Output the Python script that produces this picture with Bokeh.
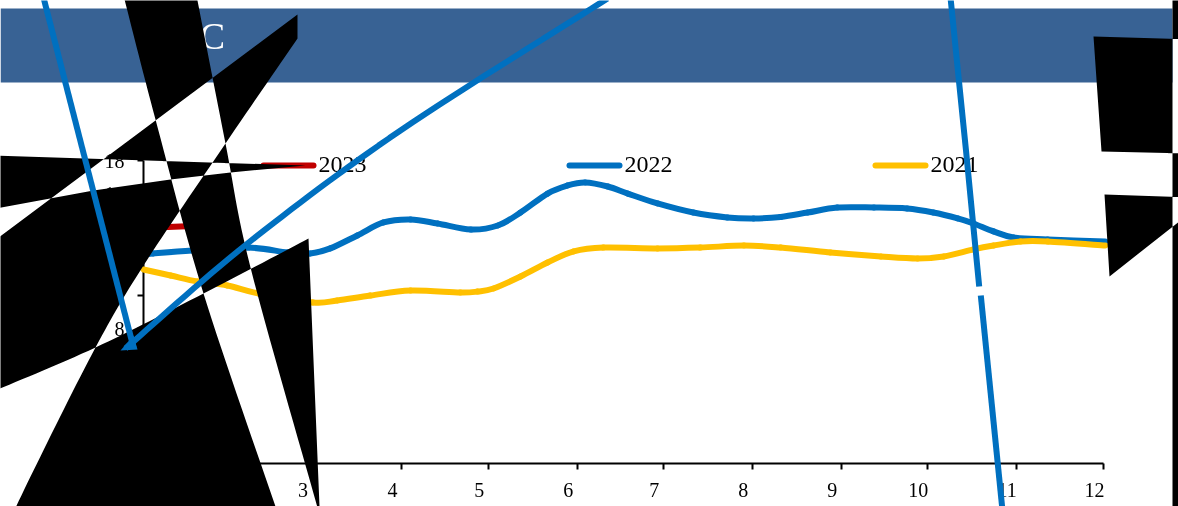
from bokeh.plotting import figure
from bokeh.models import LinearAxis, FixedTicker, Range1d
from bokeh.core.properties import value
from bokeh.embed import file_html
from bokeh.resources import INLINE

# ---- series (month position, value) ----
months_2023 = [1.00, 1.98]
values_2023 = [14.00, 14.20]

months_2022 = [1.00, 1.11, 1.56, 2.20, 2.65, 2.91, 3.14, 3.45, 3.75, 4.06, 4.37, 4.75, 5.06, 5.32, 5.63, 5.86, 6.06,
               6.32, 6.55, 6.89, 7.30, 7.69, 7.99, 8.30, 8.61, 8.95, 9.37, 9.75, 10.05, 10.33, 10.51, 10.74, 10.97,
               11.36, 12.02]
values_2022 = [12.42, 12.48, 12.66, 12.83, 12.54, 12.48, 12.78, 13.55, 14.32, 14.50, 14.26, 13.90, 14.14, 14.91, 16.04,
               16.52, 16.70, 16.46, 16.04, 15.45, 14.91, 14.62, 14.56, 14.65, 14.91, 15.21, 15.21, 15.15, 14.91, 14.56,
               14.26, 13.79, 13.43, 13.31, 13.19]

months_2021 = [1.00, 1.31, 1.62, 1.96, 2.32, 2.94, 3.22, 3.60, 4.06, 4.63, 4.83, 5.01, 5.32, 5.63, 5.93, 6.27, 6.89,
               7.38, 7.88, 8.30, 8.87, 9.45, 9.87, 10.17, 10.51, 10.74, 11.05, 11.36, 12.02]
values_2021 = [11.53, 11.17, 10.81, 10.58, 10.10, 9.57, 9.69, 9.98, 10.28, 10.16, 10.22, 10.40, 11.11, 11.94, 12.60,
               12.83, 12.78, 12.83, 12.95, 12.83, 12.54, 12.30, 12.18, 12.30, 12.72, 12.95, 13.19, 13.19, 12.95]

x_tick_positions = [1.00, 1.98, 2.93, 3.956, 4.95, 5.97, 6.955, 7.975, 8.995, 9.98, 11.0, 12.0]
x_tick_labels = ["1", "2", "3", "4", "5", "6", "7", "8", "9", "10", "11", "12"]
y_ticks = [0, 2, 4, 6, 8, 10, 12, 14, 16, 18]

legend_names = ["2023", "2022", "2021"]
title_text = "C"

RED, BLUE, YELLOW, BAND, BLACK = "#C00000", "#0070C0", "#FFC000", "#386294", "#000000"
FONT = value("Liberation Serif")

PX_PER_MONTH = 87.27
PX_PER_UNIT = 16.83
W, H = 1178, 506


def bezier_segments(xs, ys):
    """Control points of a smooth curve through the points (the reference's lines are smoothed)."""
    out = dict(x0=[], y0=[], x1=[], y1=[], cx0=[], cy0=[], cx1=[], cy1=[])
    n = len(xs)
    for i in range(n - 1):
        a, d = max(i - 1, 0), min(i + 2, n - 1)
        out["x0"].append(xs[i]); out["y0"].append(ys[i])
        out["x1"].append(xs[i + 1]); out["y1"].append(ys[i + 1])
        out["cx0"].append(xs[i] + (xs[i + 1] - xs[a]) / 6); out["cy0"].append(ys[i] + (ys[i + 1] - ys[a]) / 6)
        out["cx1"].append(xs[i + 1] - (xs[d] - xs[i]) / 6); out["cy1"].append(ys[i + 1] - (ys[d] - ys[i]) / 6)
    return out


def smooth_edge(pts, steps=16):
    xs, ys = [q[0] for q in pts], [q[1] for q in pts]
    s = bezier_segments(xs, ys)
    rx, ry = [xs[0]], [ys[0]]
    for i in range(len(xs) - 1):
        for k in range(1, steps + 1):
            t = k / steps
            u = 1 - t
            rx.append(u**3 * s["x0"][i] + 3 * u * u * t * s["cx0"][i] + 3 * u * t * t * s["cx1"][i] + t**3 * s["x1"][i])
            ry.append(u**3 * s["y0"][i] + 3 * u * u * t * s["cy0"][i] + 3 * u * t * t * s["cy1"][i] + t**3 * s["y1"][i])
    return rx, ry


p = figure(
    width=W, height=H, output_backend="svg", toolbar_location=None,
    x_axis_location=None, y_axis_location=None,
    x_range=Range1d(1 - 143 / PX_PER_MONTH, 1 + (W - 143) / PX_PER_MONTH),
    y_range=Range1d((463 - H) / PX_PER_UNIT, 463 / PX_PER_UNIT),
    min_border=0, min_border_left=0, min_border_right=0, min_border_top=0, min_border_bottom=0,
    outline_line_color=None, background_fill_color="white",
)
p.styles = {"position": "fixed", "left": "0px", "top": "0px"}
p.grid.visible = False
p.extra_x_ranges["px"] = Range1d(0, W)
p.extra_y_ranges["px"] = Range1d(H, 0)
PX = dict(x_range_name="px", y_range_name="px")

# axes: no space taken, fixed inside the frame
xax = LinearAxis(fixed_location=0, ticker=FixedTicker(ticks=[], minor_ticks=x_tick_positions),
                 bounds=(1, 12))
xax.minor_tick_in, xax.minor_tick_out = 0, 6
xax.major_tick_line_color = None
xax.axis_line_width = xax.minor_tick_line_width = 2
xax.level = "underlay"
p.add_layout(xax, "below")

yax = LinearAxis(fixed_location=1, ticker=FixedTicker(ticks=y_ticks), bounds=(0, 18))
yax.major_label_text_font = "Liberation Serif"
yax.major_label_text_font_size = "20px"
yax.major_label_text_color = "black"
yax.major_label_standoff = 13
yax.major_tick_in, yax.major_tick_out = 0, 6
yax.minor_tick_line_color = None
yax.axis_line_width = yax.major_tick_line_width = 2
yax.level = "underlay"
p.add_layout(yax, "left")

# header band and its title
p.quad(left=[0], right=[1172], top=[8], bottom=[82], fill_color=BAND, line_color=None, **PX)
p.text(x=[212], y=[35], text=[title_text], text_font=FONT, text_font_size="38px", text_color="white",
       text_align="center", text_baseline="middle", **PX)

# x tick labels
p.text(x=x_tick_positions, y=[0] * 12, text=x_tick_labels, text_font=FONT, text_font_size="20px", text_color="black",
       text_align="center", text_baseline="middle", x_offset=-9, y_offset=26)

# series
for xs, ys, col in [(months_2023, values_2023, RED), (months_2022, values_2022, BLUE), (months_2021, values_2021, YELLOW)]:
    p.bezier(line_color=col, line_width=6, line_cap="round", **bezier_segments(xs, ys))

# legend
for name, col, x0 in zip(legend_names, [RED, BLUE, YELLOW], [263, 569, 875]):
    p.line([x0, x0 + 50], [165, 165], line_color=col, line_width=6, line_cap="round", **PX)
    p.text(x=[x0 + 55], y=[164], text=[name], text_font=FONT, text_font_size="24px", text_color="black",
           text_baseline="middle", **PX)

# overlapping black shapes of the reference, drawn even-odd so that overlaps turn white
strip_l = smooth_edge([(123, -5), (155, 119), (203, 293), (275, 506), (285, 535)])
strip_r = smooth_edge([(196, -5), (225, 143), (250, 267), (315, 500), (325, 535)])
edge_2 = smooth_edge([(297, 38), (225, 143), (143, 265), (95, 347), (33, 470), (-5, 550)])
curve_c = smooth_edge([(-10, 392), (95, 347), (203, 293), (308, 238)])
strip = (strip_l[0] + strip_r[0][::-1], strip_l[1] + strip_r[1][::-1])
wedge = ([297] + edge_2[0] + [-10, -10], [14] + edge_2[1] + [560, 243])
curve = (curve_c[0] + [320, -10], curve_c[1] + [530, 530])
sliver = ([-10, 305, 230, 170, 93, -10], [155, 165, 172, 179, 190, 209])
right_column = ([1172, 1190, 1190, 1172], [-5, -5, 511, 511])
right_a = ([1093, 1190, 1190, 1101], [36, 39, 153, 151])
right_b = ([1104, 1190, 1190, 1109], [194, 197, 212, 276])
rings = [strip, wedge, curve, sliver, right_column, right_a, right_b]
p.multi_polygons(xs=[[[list(r[0]) for r in rings]]], ys=[[[list(r[1]) for r in rings]]],
                 fill_color=BLACK, line_color=None, **PX)

# blue strokes over everything
stroke_a = ([43, 133], [-3, 347])
stroke_b = smooth_edge([(607, -2), (400, 130), (247, 243), (125, 348)])
stroke_c = ([950, 965.5, 978.7], [-3, 150, 286])
stroke_d = ([980.3, 1002], [295, 510])
for sx, sy in [stroke_a, stroke_b, stroke_c, stroke_d]:
    p.line(sx, sy, line_color=BLUE, line_width=6, **PX)
p.patch([120, 137, 133], [350, 349, 335], fill_color=BLUE, line_color=None, **PX)

open("out.html", "w").write(file_html(p, INLINE))
